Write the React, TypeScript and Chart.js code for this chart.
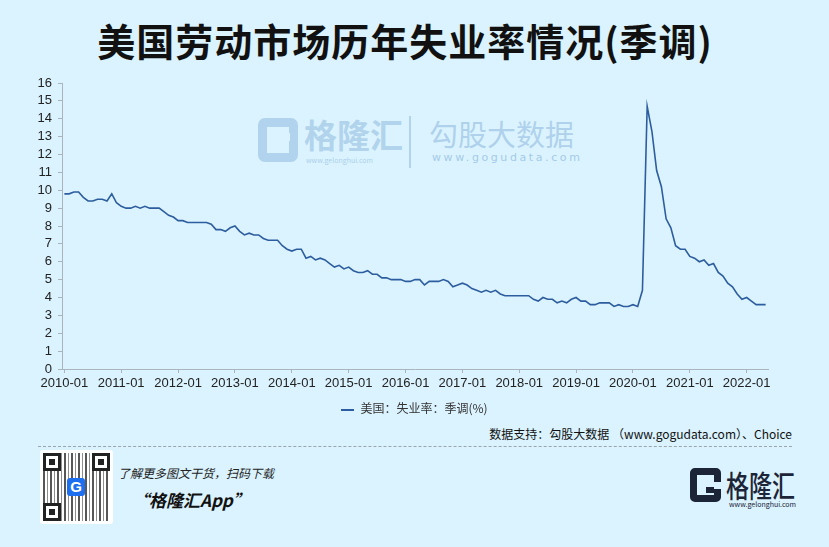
import React, { useEffect, useRef } from "react";
import { Chart, registerables } from "chart.js";

Chart.register(...registerables);

const years = [2010, 2011, 2012, 2013, 2014, 2015, 2016, 2017, 2018, 2019, 2020, 2021, 2022];

const rate2010 = [9.8, 9.8, 9.9, 9.9, 9.6, 9.4, 9.4, 9.5, 9.5, 9.4, 9.8, 9.3];
const rate2011 = [9.1, 9.0, 9.0, 9.1, 9.0, 9.1, 9.0, 9.0, 9.0, 8.8, 8.6, 8.5];
const rate2012 = [8.3, 8.3, 8.2, 8.2, 8.2, 8.2, 8.2, 8.1, 7.8, 7.8, 7.7, 7.9];
const rate2013 = [8.0, 7.7, 7.5, 7.6, 7.5, 7.5, 7.3, 7.2, 7.2, 7.2, 6.9, 6.7];
const rate2014 = [6.6, 6.7, 6.7, 6.2, 6.3, 6.1, 6.2, 6.1, 5.9, 5.7, 5.8, 5.6];
const rate2015 = [5.7, 5.5, 5.4, 5.4, 5.5, 5.3, 5.3, 5.1, 5.1, 5.0, 5.0, 5.0];
const rate2016 = [4.9, 4.9, 5.0, 5.0, 4.7, 4.9, 4.9, 4.9, 5.0, 4.9, 4.6, 4.7];
const rate2017 = [4.8, 4.7, 4.5, 4.4, 4.3, 4.4, 4.3, 4.4, 4.2, 4.1, 4.1, 4.1];
const rate2018 = [4.1, 4.1, 4.1, 3.9, 3.8, 4.0, 3.9, 3.9, 3.7, 3.8, 3.7, 3.9];
const rate2019 = [4.0, 3.8, 3.8, 3.6, 3.6, 3.7, 3.7, 3.7, 3.5, 3.6, 3.5, 3.5];
const rate2020 = [3.6, 3.5, 4.4, 14.7, 13.3, 11.1, 10.2, 8.4, 7.9, 6.9, 6.7, 6.7];
const rate2021 = [6.3, 6.2, 6.0, 6.1, 5.8, 5.9, 5.4, 5.2, 4.8, 4.6, 4.2, 3.9];
const rate2022 = [4.0, 3.8, 3.6, 3.6, 3.6];

const yearly = [rate2010, rate2011, rate2012, rate2013, rate2014, rate2015, rate2016,
  rate2017, rate2018, rate2019, rate2020, rate2021, rate2022];

const months: string[] = [];
const values: number[] = [];
yearly.forEach((arr, yi) => {
  arr.forEach((v, mi) => {
    months.push(`${years[yi]}-${String(mi + 1).padStart(2, "0")}`);
    values.push(v);
  });
});

const yMin = 0;
const yMax = 16;
const yStep = 1;
const seriesName = "美国：失业率：季调(%)";
const titleText = "美国劳动市场历年失业率情况(季调)";
const sourceText = "数据支持：勾股大数据 （www.gogudata.com）、Choice";

const BG = "#daf3fe";
const LINE = "#2d5d9e";
const AXIS = "#a9b4bd";
const WM = "rgba(150,190,225,0.6)";

export default function App() {
  const ref = useRef<HTMLCanvasElement | null>(null);

  useEffect(() => {
    if (!ref.current) return;
    const chart = new Chart(ref.current, {
      type: "line",
      data: {
        labels: months,
        datasets: [
          {
            label: seriesName,
            data: values,
            borderColor: LINE,
            backgroundColor: LINE,
            borderWidth: 1.6,
            pointRadius: 0,
            tension: 0,
          },
        ],
      },
      options: {
        animation: false,
        responsive: false,
        devicePixelRatio: 1,
        layout: { padding: { top: 83, right: 61, left: 0, bottom: 0 } },
        plugins: { legend: { display: false }, tooltip: { enabled: false } },
        scales: {
          x: {
            type: "category",
            offset: true,
            afterBuildTicks: (scale: any) => {
              scale.ticks = scale.ticks.filter((t: any) => t.value % 12 === 0);
            },
            afterFit: (scale: any) => {
              scale.height = 31;
            },
            grid: {
              drawOnChartArea: false,
              drawTicks: true,
              tickLength: 4,
              tickColor: AXIS,
              offset: false,
            },
            border: { color: AXIS, width: 1 },
            ticks: {
              autoSkip: false,
              maxRotation: 0,
              padding: 3,
              color: "#222",
              font: { family: "'Liberation Sans', Arial, sans-serif", size: 13 },
            },
          },
          y: {
            min: yMin,
            max: yMax,
            afterFit: (scale: any) => {
              scale.width = 62;
            },
            grid: { drawOnChartArea: false, drawTicks: true, tickLength: 4, tickColor: AXIS },
            border: { color: AXIS, width: 1 },
            ticks: {
              stepSize: yStep,
              autoSkip: false,
              padding: 6,
              color: "#222",
              font: { family: "'Liberation Sans', Arial, sans-serif", size: 13 },
            },
          },
        },
      },
    });
    return () => chart.destroy();
  }, []);

  const cjk = "'Noto Sans CJK SC', 'Noto Sans', sans-serif";

  return (
    <div
      style={{
        position: "fixed",
        left: 0,
        top: 0,
        width: 829,
        height: 547,
        background: BG,
        overflow: "hidden",
        fontFamily: cjk,
      }}
    >
      <div
        style={{
          position: "absolute",
          left: 0,
          width: 810,
          top: 13,
          textAlign: "center",
          fontSize: 38,
          fontWeight: 700,
          color: "#111",
          lineHeight: "54px",
          letterSpacing: 1,
        }}
      >
        {titleText}
      </div>

      {/* watermark */}
      <div
        style={{
          position: "absolute",
          left: 258,
          top: 118,
          width: 40,
          height: 44,
          border: `9px solid ${WM}`,
          borderRadius: 7,
          boxSizing: "border-box",
          pointerEvents: "none",
        }}
      >
        <div style={{ position: "absolute", left: 10, top: 6, width: 13, height: 8, background: BG }} />
      </div>
      <div
        style={{
          position: "absolute",
          left: 304,
          top: 112,
          fontSize: 33,
          fontWeight: 700,
          color: WM,
          lineHeight: "44px",
        }}
      >
        格隆汇
      </div>
      <div
        style={{
          position: "absolute",
          left: 306,
          top: 155,
          fontSize: 7,
          color: "rgba(150,190,225,0.7)",
          lineHeight: "10px",
        }}
      >
        www.gelonghui.com
      </div>
      <div style={{ position: "absolute", left: 409, top: 116, width: 2, height: 52, background: WM }} />
      <div
        style={{
          position: "absolute",
          left: 429,
          top: 112,
          fontSize: 29,
          color: "rgba(150,190,225,0.65)",
          lineHeight: "42px",
        }}
      >
        勾股大数据
      </div>
      <div
        style={{
          position: "absolute",
          left: 432,
          top: 151,
          fontSize: 11,
          color: "rgba(150,190,225,0.8)",
          lineHeight: "14px",
          letterSpacing: 2.6,
          fontFamily: "'DejaVu Sans', sans-serif",
        }}
      >
        www.gogudata.com
      </div>

      <canvas ref={ref} width={829} height={400} style={{ position: "absolute", left: 0, top: 0 }} />

      {/* legend */}
      <div
        style={{
          position: "absolute",
          left: 0,
          width: 829,
          top: 399,
          textAlign: "center",
          fontSize: 12,
          color: "#333",
          lineHeight: "18px",
        }}
      >
        <span
          style={{
            display: "inline-block",
            width: 13,
            height: 2,
            background: LINE,
            verticalAlign: "middle",
            marginRight: 6,
          }}
        />
        {seriesName}
      </div>

      {/* source */}
      <div
        style={{
          position: "absolute",
          right: 37,
          top: 425,
          fontSize: 12,
          color: "#111",
          lineHeight: "18px",
          whiteSpace: "nowrap",
        }}
      >
        {sourceText}
      </div>
      <div style={{ position: "absolute", left: 38, width: 754, top: 446, borderTop: "1px dashed #9aa6ad" }} />

      {/* footer QR */}
      <div
        style={{
          position: "absolute",
          left: 40,
          top: 450,
          width: 73,
          height: 74,
          background: "#fff",
          borderRadius: 3,
        }}
      >
        <div
          style={{
            position: "absolute",
            left: 3,
            top: 3,
            right: 3,
            bottom: 3,
            backgroundColor: "#fff",
            backgroundImage:
              "repeating-linear-gradient(90deg, rgba(30,30,30,0.75) 0 2px, transparent 2px 4px, rgba(30,30,30,0.5) 4px 5px, transparent 5px 7px), repeating-linear-gradient(0deg, rgba(255,255,255,0.9) 0 2px, transparent 2px 5px)",
          }}
        />
        {[
          [3, 3],
          [52, 3],
          [3, 53],
        ].map(([l, t], i) => (
          <div
            key={i}
            style={{
              position: "absolute",
              left: l,
              top: t,
              width: 18,
              height: 18,
              background: "#fff",
              border: "3px solid #222",
              boxSizing: "border-box",
            }}
          >
            <div style={{ position: "absolute", left: 3, top: 3, width: 6, height: 6, background: "#222" }} />
          </div>
        ))}
        <div
          style={{
            position: "absolute",
            left: 27,
            top: 28,
            width: 18,
            height: 18,
            background: "#1e6ff0",
            borderRadius: 3,
            color: "#fff",
            fontSize: 15,
            fontWeight: 700,
            textAlign: "center",
            lineHeight: "18px",
            fontFamily: "'Liberation Sans', Arial, sans-serif",
          }}
        >
          G
        </div>
      </div>

      <div
        style={{
          position: "absolute",
          left: 118,
          top: 464,
          fontSize: 12,
          fontStyle: "italic",
          color: "#222",
          lineHeight: "18px",
        }}
      >
        了解更多图文干货，扫码下载
      </div>
      <div
        style={{
          position: "absolute",
          left: 132,
          top: 488,
          fontSize: 17,
          fontStyle: "italic",
          fontWeight: 700,
          color: "#111",
          lineHeight: "24px",
        }}
      >
        “格隆汇App”
      </div>

      {/* footer logo */}
      <div
        style={{
          position: "absolute",
          left: 690,
          top: 468,
          width: 31,
          height: 34,
          border: "7px solid #1c2438",
          borderRadius: 5,
          boxSizing: "border-box",
        }}
      >
        <div style={{ position: "absolute", left: 8, top: 7, width: 17, height: 7, background: BG }} />
        <div style={{ position: "absolute", left: 9, top: 12, width: 8, height: 6, background: "#1c2438" }} />
      </div>
      <div
        style={{
          position: "absolute",
          left: 726,
          top: 462,
          fontSize: 23,
          color: "#1c2438",
          lineHeight: "34px",
          fontWeight: 500,
          transform: "scaleY(1.3)",
          transformOrigin: "left top",
        }}
      >
        格隆汇
      </div>
      <div
        style={{
          position: "absolute",
          left: 729,
          top: 500,
          fontSize: 7,
          color: "#1c2438",
          lineHeight: "9px",
        }}
      >
        www.gelonghui.com
      </div>
    </div>
  );
}
